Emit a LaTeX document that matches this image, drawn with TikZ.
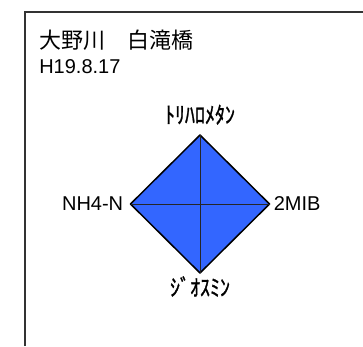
\documentclass[tikz,border=0pt]{standalone}
\usepackage{fontspec}
\setmainfont{Liberation Sans}
\newfontfamily\jpfont{Noto Sans CJK JP}
\newfontfamily\kanafont[FakeBold=1.2]{Noto Sans CJK JP}
\usetikzlibrary{positioning}

\definecolor{chartblue}{RGB}{51,102,255}
\tikzstyle{lbl} = [inner sep=0pt, font=\fontsize{20}{20}\selectfont]
\tikzstyle{kana} = [inner sep=0pt, font=\kanafont\fontsize{20}{20}\selectfont]

\begin{document}
\begin{tikzpicture}[x=1pt,y=-1pt,semithick]
\useasboundingbox (0,0) rectangle (363,346);

% frame
\draw[line width=1.5pt, black!80] (25,346) -- (25,12) -- (363,12);

\node[lbl, anchor=base west, font=\jpfont\fontsize{22}{22}\selectfont] (Title) at (39,48) {大野川　白滝橋};
\node[lbl, anchor=base west] (Date) at (39,73) {H19.8.17};

\coordinate (Center) at (200,204);
\coordinate (Top) at (200,135);
\coordinate (Bottom) at (200,273);
\coordinate (Left) at (130.5,204);
\coordinate (Right) at (269.5,204);

\filldraw[fill=chartblue, line width=1.5pt, line join=round] (Top) -- (Right) -- (Bottom) -- (Left) -- cycle;
\draw[black!85] (Top) -- (Bottom) (Left) -- (Right);

\node[kana] (Trihalo) [above=10pt of Top] {\scalebox{1}[1.15]{ﾄﾘﾊﾛﾒﾀﾝ}};
\node[kana] (Geosmin) [below=3pt of Bottom] {\scalebox{1}[1.15]{ｼﾞｵｽﾐﾝ}};
\node[lbl] (Ammonia) [left=7pt of Left] {NH4-N};
\node[lbl] (Mib) [right=4pt of Right] {2MIB};

\end{tikzpicture}
\end{document}
